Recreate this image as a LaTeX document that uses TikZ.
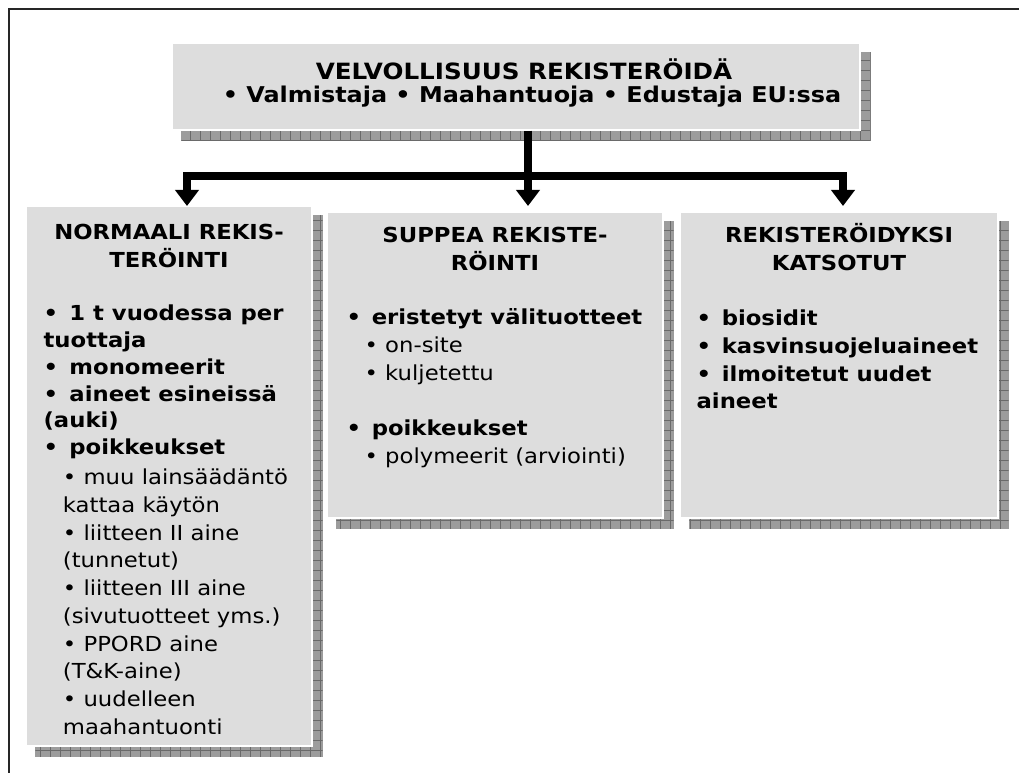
\documentclass[tikz,border=0pt]{standalone}
\usepackage{fontspec}
\setmainfont{DejaVu Sans}[FakeStretch=1.1]
\usetikzlibrary{arrows.meta,backgrounds,fit}

\definecolor{boxgray}{HTML}{DDDDDD}
\definecolor{shadegray}{HTML}{9C9C9C}
\definecolor{gridgray}{HTML}{6A6A6A}

\newcommand{\chartfont}{\fontsize{15.5}{20.8}\selectfont}
\newcommand{\subindent}{\hspace*{14.5pt}}
\newcommand{\boxshadow}[1]{%
  \begin{scope}[on background layer]
    \fill[shadegray] ([shift={(10,10)}]#1.south west) rectangle ([shift={(10,10)}]#1.north east);
    \begin{scope}
      \clip ([shift={(10,10)}]#1.south west) rectangle ([shift={(10,10)}]#1.north east);
      \draw[gridgray, line width=0.5pt, step=7.5pt] ([shift={(10,10)}]#1.south west) grid ([shift={(10,10)}]#1.north east);
    \end{scope}
  \end{scope}}

\begin{document}
\begin{tikzpicture}[x=0.75pt, y=-0.75pt,
    panel/.style={fill=boxgray, draw=white, line width=1pt, inner sep=0pt},
    head/.style={font=\chartfont\bfseries, align=center, inner sep=0pt},
    items/.style={font=\chartfont, align=left, inner sep=0pt},
    bar/.style={line width=6pt, draw=black},
    bartip/.style={bar, -{Triangle[width=17.25pt, length=12pt]}}]
    \useasboundingbox (0,0) rectangle (1019,773);

    \draw[line width=1.5pt, black!85] (9,773) -- (9,9) -- (1019,9);

    \node[panel, fit={(172,43) (860,130)}] (duty) {};
    \node[panel, fit={(26,206) (312,746)}] (normal) {};
    \node[panel, fit={(327,212) (663,518)}] (limited) {};
    \node[panel, fit={(680,212) (998,518)}] (deemed) {};

    \boxshadow{duty}
    \boxshadow{normal}
    \boxshadow{limited}
    \boxshadow{deemed}

    \node[head, anchor=base, font=\fontsize{16.8}{20}\selectfont\bfseries] (dutytitle) at (524,80)
        {VELVOLLISUUS REKISTERÖIDÄ};
    \node[head, anchor=base, font=\fontsize{16.3}{20}\selectfont\bfseries] (dutywho) at (532,103)
        {\textbullet\ Valmistaja \textbullet\ Maahantuoja \textbullet\ Edustaja EU:ssa};

    \node[head, anchor=north] (normalhead) at ([shift={(0,14.6)}]normal.north)
        {\strut NORMAALI REKIS-\\TERÖINTI};
    \node[head, anchor=north] (limitedhead) at ([shift={(0,11.6)}]limited.north)
        {\strut SUPPEA REKISTE-\\RÖINTI};
    \node[head, anchor=north] (deemedhead) at ([shift={(0,11.6)}]deemed.north)
        {\strut REKISTERÖIDYKSI\\KATSOTUT};

    \node[items, anchor=north west] (normallist) at ([shift={(18,95.6)}]normal.north west)
        {\strut\textbf{\textbullet\ \,1 t vuodessa per}\\[-0.7pt]
         \textbf{tuottaja}\\[-0.7pt]
         \textbf{\textbullet\ \,monomeerit}\\[-0.7pt]
         \textbf{\textbullet\ \,aineet esineissä}\\[-0.7pt]
         \textbf{(auki)}\\[-0.7pt]
         \textbf{\textbullet\ \,poikkeukset}\\[1.7pt]
         \subindent\textbullet\ muu lainsäädäntö\\
         \subindent kattaa käytön\\
         \subindent\textbullet\ liitteen II aine\\
         \subindent(tunnetut)\\
         \subindent\textbullet\ liitteen III aine\\
         \subindent(sivutuotteet yms.)\\
         \subindent\textbullet\ PPORD aine\\
         \subindent(T\&K-aine)\\
         \subindent\textbullet\ uudelleen\\
         \subindent maahantuonti};

    \node[items, anchor=north west] (limitedlist) at ([shift={(20,93.6)}]limited.north west)
        {\strut\textbf{\textbullet\hspace{8pt}eristetyt välituotteet}\\
         \hspace*{13.5pt}\textbullet\ on-site\\
         \hspace*{13.5pt}\textbullet\ kuljetettu\\
         \strut\\
         \textbf{\textbullet\hspace{8pt}poikkeukset}\\
         \hspace*{13.5pt}\textbullet\ polymeerit (arviointi)};

    \node[items, anchor=north west] (deemedlist) at ([shift={(17,94.6)}]deemed.north west)
        {\strut\textbf{\textbullet\hspace{8pt}biosidit}\\
         \textbf{\textbullet\hspace{8pt}kasvinsuojeluaineet}\\
         \textbf{\textbullet\hspace{8pt}ilmoitetut uudet}\\
         \textbf{aineet}};

    \coordinate (hub) at (528,176);
    \coordinate (tipL) at (187,206);
    \coordinate (tipM) at (528,206);
    \coordinate (tipR) at (843,206);

    \draw[bar] (duty.south -| hub) -- (hub);
    \draw[bartip] (hub) -| (tipL);
    \draw[bartip] (hub) -- (tipM);
    \draw[bartip] (hub) -| (tipR);
\end{tikzpicture}
\end{document}
